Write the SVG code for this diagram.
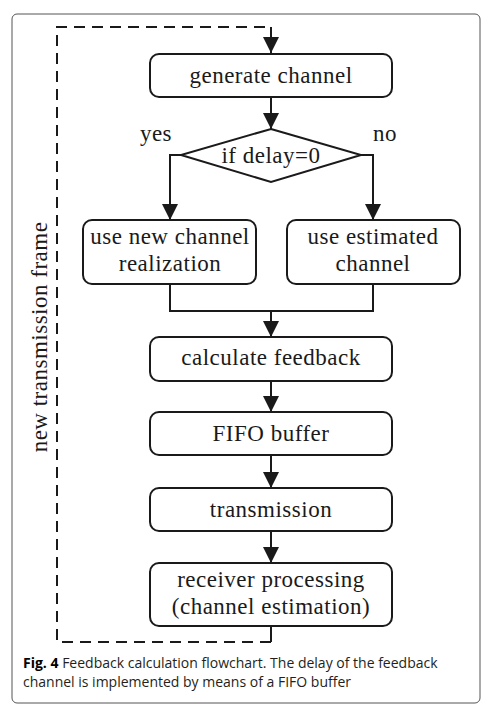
<svg xmlns="http://www.w3.org/2000/svg" width="489" height="717" viewBox="0 0 489 717">
<style>
.box{fill:#fff;stroke:#1a1a1a;stroke-width:2}
.t{font-family:"Liberation Serif",serif;font-size:23px;letter-spacing:0.5px;fill:#1a1a1a;text-anchor:middle}
.c{fill:none;stroke:#1a1a1a;stroke-width:2}
.d{fill:none;stroke:#1a1a1a;stroke-width:2;stroke-dasharray:11,7}
.cap{font-family:"Open Sans","Noto Sans",sans-serif;font-size:14px;fill:#231f20}
</style>
<defs>
<marker id="ah" markerUnits="userSpaceOnUse" markerWidth="18" markerHeight="16" refX="16" refY="8" orient="auto">
<path d="M0,0 L16,8 L0,16 z" fill="#1a1a1a"/>
</marker>
</defs>
<rect x="12" y="14" width="468" height="689" rx="5" fill="#fff" stroke="#555" stroke-width="1"/>
<g id="connectors">
<path class="d" d="M271,642 H57 V27 H271"/>
<path class="c" d="M271,27 V53" marker-end="url(#ah)"/>
<path class="c" d="M271,626 V642"/>
<path class="c" d="M271,97 V129" marker-end="url(#ah)"/>
<path class="c" d="M181,155 H170 V220" marker-end="url(#ah)"/>
<path class="c" d="M361,155 H373 V220" marker-end="url(#ah)"/>
<path class="c" d="M170,284 V311 H373 V284"/>
<path class="c" d="M271,311 V337" marker-end="url(#ah)"/>
<path class="c" d="M271,381 V412" marker-end="url(#ah)"/>
<path class="c" d="M271,455 V488" marker-end="url(#ah)"/>
<path class="c" d="M271,531 V563" marker-end="url(#ah)"/>
</g>
<g id="generate">
<rect class="box" x="150" y="54" width="242" height="43" rx="9"/>
<text class="t" x="271" y="83">generate channel</text>
</g>
<g id="decision">
<path class="box" d="M271,129 L361,155 L271,182 L181,155 z"/>
<text class="t" x="271" y="163">if delay=0</text>
</g>
<g id="yes-label"><text class="t" x="156" y="141">yes</text></g>
<g id="no-label"><text class="t" x="385" y="141">no</text></g>
<g id="use-new">
<rect class="box" x="83" y="220" width="173" height="64" rx="9"/>
<text class="t" x="170" y="244">use new channel</text>
<text class="t" x="170" y="271">realization</text>
</g>
<g id="use-est">
<rect class="box" x="287" y="220" width="173" height="64" rx="9"/>
<text class="t" x="373" y="244">use estimated</text>
<text class="t" x="373" y="271">channel</text>
</g>
<g id="calc">
<rect class="box" x="150" y="337" width="242" height="44" rx="9"/>
<text class="t" x="271" y="365">calculate feedback</text>
</g>
<g id="fifo">
<rect class="box" x="150" y="412" width="242" height="43" rx="9"/>
<text class="t" x="271" y="441">FIFO buffer</text>
</g>
<g id="trans">
<rect class="box" x="150" y="488" width="242" height="43" rx="9"/>
<text class="t" x="271" y="517">transmission</text>
</g>
<g id="receiver">
<rect class="box" x="150" y="563" width="242" height="63" rx="9"/>
<text class="t" x="271" y="587">receiver processing</text>
<text class="t" x="271" y="614">(channel estimation)</text>
</g>
<g id="frame-label">
<text class="t" transform="translate(47,337) rotate(-90)">new transmission frame</text>
</g>
<g id="caption">
<text class="cap" x="23" y="668"><tspan font-weight="bold" fill="#000">Fig. 4</tspan> Feedback calculation flowchart. The delay of the feedback</text>
<text class="cap" x="23" y="687">channel is implemented by means of a FIFO buffer</text>
</g>
</svg>
